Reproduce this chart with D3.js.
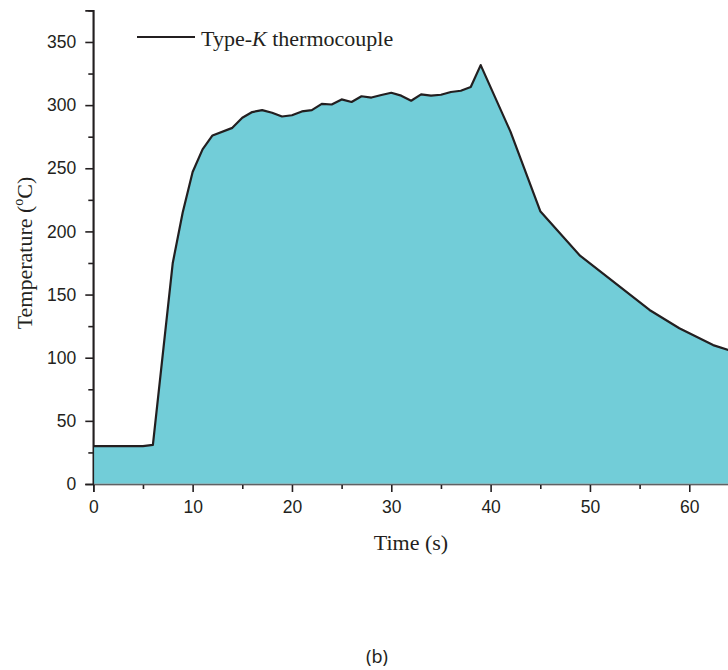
<!DOCTYPE html>
<html>
<head>
<meta charset="utf-8">
<script src="https://cdn.jsdelivr.net/npm/d3@7"></script>
<style>
body { margin:0; background:#fff; }
.tick text { font-family:"Liberation Sans", Arial, sans-serif; font-size:17.5px; fill:#231f20; }
</style>
</head>
<body>
<div id="chart"></div>
<script>
var times = [0, 5, 6, 8, 9, 10, 11, 12, 14, 15, 16, 17, 18, 19, 20, 21, 22, 23, 24, 25, 26, 27, 28, 29, 30, 31, 32, 33, 34, 35, 36, 37, 38, 39, 42, 45, 49, 56, 59, 62.4, 64];
var temps = [30, 30, 31, 175, 215, 247, 265, 276, 282, 290, 294.5, 296, 294, 291, 292, 295, 296, 301, 300.5, 304.5, 302.5, 307, 306, 308, 309.8, 307.5, 303.5, 308.5, 307.5, 308.2, 310.4, 311.4, 314.3, 331.7, 279, 216, 180.8, 137.8, 123.3, 110, 106];
var xMajor = [0, 10, 20, 30, 40, 50, 60];
var xMinor = [5, 15, 25, 35, 45, 55];
var yMajor = [0, 50, 100, 150, 200, 250, 300, 350];
var yMinor = [25, 75, 125, 175, 225, 275, 325, 375];

var widthPage = 728, heightPage = 670;
var ink = "#231f20";
var serif = "Liberation Serif, Times New Roman, serif";
var data = times.map(function(t, i){ return {t:t, v:temps[i]}; });

var svg = d3.select("#chart").append("svg").attr("width", widthPage).attr("height", heightPage);

var x = d3.scaleLinear().domain([0, 64]).range([93.3, 729]);
var y = d3.scaleLinear().domain([0, 375]).range([484, 10.4]);

// axes first so the fill sits over the bottom line
var xaxis = svg.append("g").attr("transform", "translate(0,484)")
    .call(d3.axisBottom(x).tickValues(xMajor).tickSize(8).tickPadding(9).tickFormat(d3.format("d")));
svg.append("g").attr("transform", "translate(0,484)")
    .call(d3.axisBottom(x).tickValues(xMinor).tickSize(5).tickFormat(""))
    .select(".domain").remove();
var yaxis = svg.append("g").attr("transform", "translate(93.3,0)")
    .call(d3.axisLeft(y).tickValues(yMajor).tickSize(8).tickPadding(9).tickFormat(d3.format("d")));
svg.append("g").attr("transform", "translate(93.3,0)")
    .call(d3.axisLeft(y).tickValues(yMinor).tickSize(5).tickFormat(""))
    .select(".domain").remove();
svg.selectAll(".domain").attr("stroke", ink).attr("stroke-width", 1.6);
svg.selectAll(".tick line").attr("stroke", ink).attr("stroke-width", 1.6);

var area = d3.area().x(d => x(d.t)).y0(y(0)).y1(d => y(d.v));
svg.append("path").datum(data).attr("d", area).attr("fill", "#72cdd8");
svg.append("line").attr("x1", x(0)).attr("x2", x(64)).attr("y1", y(0)).attr("y2", y(0))
    .attr("stroke", "#9aa3a6").attr("stroke-width", 1);

var line = d3.line().x(d => x(d.t)).y(d => y(d.v));
svg.append("path").datum(data).attr("d", line).attr("fill", "none")
    .attr("stroke", ink).attr("stroke-width", 2.2).attr("stroke-linejoin", "round");
// y axis line back on top of the fill
svg.append("line").attr("x1", 93.3).attr("x2", 93.3).attr("y1", 10.4).attr("y2", 485)
    .attr("stroke", ink).attr("stroke-width", 1.6);

// legend
svg.append("line").attr("x1", 137).attr("x2", 195).attr("y1", 37).attr("y2", 37)
    .attr("stroke", ink).attr("stroke-width", 2.2);
var leg = svg.append("text").attr("x", 201).attr("y", 46)
    .attr("font-family", serif).attr("font-size", 22).attr("fill", ink);
leg.append("tspan").text("Type-");
leg.append("tspan").attr("font-style", "italic").text("K");
leg.append("tspan").text(" thermocouple");

// axis titles
svg.append("text").attr("x", 411).attr("y", 550).attr("text-anchor", "middle")
    .attr("font-family", serif).attr("font-size", 22).attr("fill", ink)
    .text("Time (s)");
var yl = svg.append("text").attr("transform", "translate(32,253) rotate(-90)").attr("text-anchor", "middle")
    .attr("font-family", serif).attr("font-size", 22).attr("fill", ink);
yl.append("tspan").text("Temperature (");
yl.append("tspan").attr("font-size", 14).attr("dy", -9).text("o");
yl.append("tspan").attr("dy", 9).text("C)");

svg.append("text").attr("x", 377).attr("y", 663).attr("text-anchor", "middle")
    .attr("font-family", "Noto Sans, sans-serif").attr("font-size", 18).attr("fill", ink)
    .text("(b)");
</script>
</body>
</html>
